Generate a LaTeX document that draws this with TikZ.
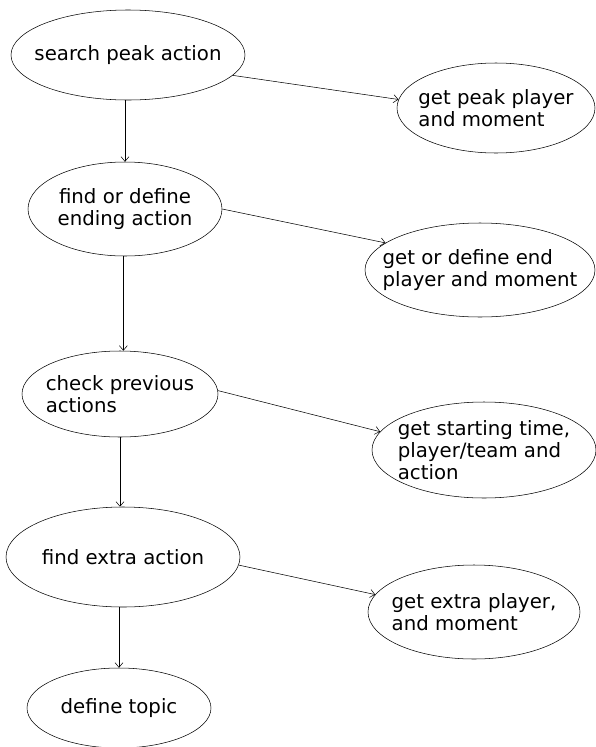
\documentclass[tikz,border=0pt]{standalone}
\usepackage{fontspec}
\setmainfont{DejaVu Sans}
\usetikzlibrary{shapes,arrows.meta,positioning}
\tikzset{
    -{Straight Barb[length=3.5pt,width=6pt]}, line width=0.7pt,
    state/.style ={ellipse, draw, inner xsep=-50pt, inner ysep=-20pt, align=center,
                   font=\fontsize{14.8}{16.3}\selectfont},
    esize/.style 2 args={minimum width=#1*0.75pt, minimum height=#2*0.75pt},
    lefttext/.style={align=left}
}

\begin{document}
\begin{tikzpicture}[x=0.75pt,y=-0.75pt]
    \useasboundingbox (0,0) rectangle (596,747);
    \node (s) at (128,55) [state, esize={234}{90}] {search peak action};
    \node (gp) at (496,108) [state, lefttext, esize={198}{90}] {get peak player\\and moment};
    \node (f) at (125,209) [state, esize={194}{94}] {find or define\\ending action};
    \node (gd) at (480,270) [state, lefttext, esize={230}{94}] {get or define end\\player and moment};
    \node (c) at (120,394) [state, lefttext, esize={196}{86}] {check previous\\actions};
    \node (gs) at (484,450) [state, lefttext, esize={224}{96}] {get starting time,\\player/team and\\action};
    \node (e) at (123,557) [state, esize={234}{100}] {find extra action};
    \node (ge) at (474,612) [state, lefttext, esize={212}{94}] {get extra player,\\and moment};
    \node (t) at (119,708) [state, esize={184}{80}] {define topic};

    \path (f.north |- s.south) edge (f.north);
    \path (f.-92) edge (f.-92 |- c.north);
    \path (c.south) edge (c.south |- e.north);
    \path (t.north |- e.south) edge (t.north);

    \path (s.-11) edge (gp.175);
    \path (f.0) edge (gd.164);
    \path (c.2) edge (gs.170);
    \path (e.-4) edge (ge.170);
\end{tikzpicture}
\end{document}
